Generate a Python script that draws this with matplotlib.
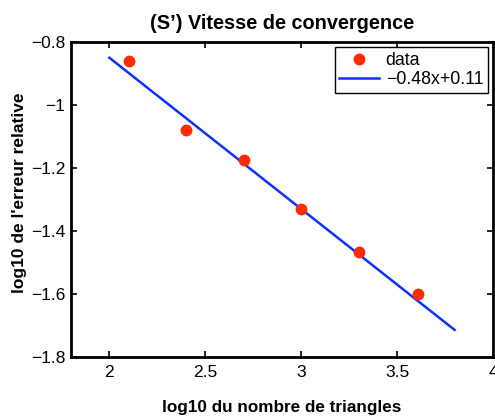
import numpy as np
import matplotlib
matplotlib.use("Agg")
import matplotlib.pyplot as plt

plt.rcParams['font.family'] = ['Liberation Sans', 'DejaVu Sans']

x_data = [2.10, 2.40, 2.70, 3.00, 3.30, 3.61]
y_data = [-0.86, -1.08, -1.175, -1.33, -1.468, -1.60]
slope = -0.48
intercept = 0.11
fit_x = [2.0, 3.8]
xticks = [2, 2.5, 3, 3.5, 4]
yticks = [-1.8, -1.6, -1.4, -1.2, -1.0, -0.8]

fig = plt.figure(figsize=(4.95, 4.19), dpi=100)
ax = fig.add_axes([0.1434, 0.148, 0.8525, 0.7518])

fx = np.array(fit_x)
ax.plot(x_data, y_data, 'o', color='#ff2a00', markersize=7.5, label='data', zorder=3)
ax.plot(fx, slope * fx + intercept, '-', color='#1030ff', linewidth=1.8,
        label='\u22120.48x+0.11', zorder=2)

ax.set_xlim(1.8, 4)
ax.set_ylim(-1.8, -0.8)
ax.set_xticks(xticks)
ax.set_xticklabels(['2', '2.5', '3', '3.5', '4'])
ax.set_yticks(yticks)
ax.set_yticklabels(['\u22121.8', '\u22121.6', '\u22121.4', '\u22121.2', '\u22121', '\u22120.8'])
ax.tick_params(direction='in', top=True, right=True, length=4, width=1.2, labelsize=12.5)
ax.tick_params(axis='y', pad=4)
ax.tick_params(axis='x', pad=6)
for s in ax.spines.values():
    s.set_linewidth(2)

ax.set_title("(S\u2019) Vitesse de convergence", fontsize=14.3, fontweight='bold', pad=9)
ax.set_xlabel("log10 du nombre de triangles", fontsize=12.3, fontweight='bold', labelpad=14)
ax.set_ylabel("log10 de l'erreur relative", fontsize=12.5, fontweight='bold')
ax.yaxis.set_label_coords(-0.104, 0.52)

leg = ax.legend(loc='upper right', fontsize=12.8, fancybox=False, edgecolor='black',
                framealpha=1, borderpad=0.25, handlelength=2.2, labelspacing=0.15,
                handletextpad=0.4, borderaxespad=0.3)
leg.get_frame().set_linewidth(1.0)

fig.savefig('out.png', dpi=100)
